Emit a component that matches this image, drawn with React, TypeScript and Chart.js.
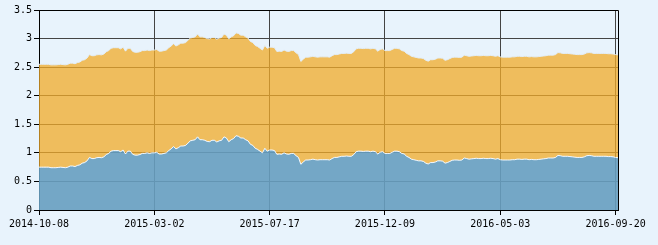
import React, { useEffect, useRef } from "react";
import { Chart, registerables } from "chart.js";

Chart.register(...registerables);

const tickLabels = ["2014-10-08", "2015-03-02", "2015-07-17", "2015-12-09", "2016-05-03", "2016-09-20"];
const tickStep = 48;

const unitValues = [
  0.75, 0.75, 0.75, 0.75, 0.75, 0.74, 0.74, 0.74, 0.745, 0.75,
  0.745, 0.74, 0.75, 0.77, 0.77, 0.76, 0.78, 0.79, 0.82, 0.83,
  0.86, 0.92, 0.90, 0.90, 0.915, 0.92, 0.915, 0.93, 0.97, 0.99,
  1.03, 1.04, 1.04, 1.04, 1.02, 1.05, 0.98, 1.03, 1.03, 0.975,
  0.96, 0.96, 0.97, 0.99, 0.99, 1.0, 0.99, 1.0, 1.0, 1.01,
  0.98, 0.98, 0.99, 1.0, 1.04, 1.07, 1.11, 1.07, 1.09, 1.12,
  1.12, 1.13, 1.17, 1.21, 1.22, 1.23, 1.28, 1.23, 1.23, 1.22,
  1.2, 1.195, 1.22, 1.22, 1.19, 1.21, 1.22, 1.28, 1.26, 1.195,
  1.23, 1.25, 1.30, 1.29, 1.26, 1.26, 1.23, 1.21, 1.15, 1.13,
  1.08, 1.06, 1.03, 1.0, 1.08, 1.03, 1.05, 1.05, 1.04, 0.975,
  0.98, 0.975, 1.0, 0.98, 0.975, 0.99, 0.99, 0.95, 0.92, 0.80,
  0.84, 0.875, 0.875, 0.88, 0.89, 0.88, 0.875, 0.88, 0.88, 0.88,
  0.88, 0.875, 0.9, 0.92, 0.92, 0.93, 0.94, 0.94, 0.945, 0.94,
  0.94, 0.97, 1.02, 1.03, 1.03, 1.025, 1.03, 1.03, 1.02, 1.03,
  1.02, 0.98, 1.01, 1.02, 0.99, 0.99, 0.99, 1.01, 1.03, 1.03,
  1.02, 0.99, 0.98, 0.94, 0.92, 0.89, 0.88, 0.87, 0.86, 0.86,
  0.85, 0.82, 0.805, 0.83, 0.83, 0.84, 0.86, 0.86, 0.855, 0.82,
  0.83, 0.85, 0.87, 0.875, 0.875, 0.87, 0.875, 0.91, 0.90, 0.89,
  0.895, 0.90, 0.905, 0.90, 0.90, 0.905, 0.90, 0.90, 0.905, 0.90,
  0.89, 0.9, 0.88, 0.875, 0.875, 0.875, 0.875, 0.88, 0.88, 0.89,
  0.89, 0.885, 0.89, 0.89, 0.88, 0.885, 0.88, 0.88, 0.885, 0.89,
  0.895, 0.90, 0.91, 0.91, 0.91, 0.92, 0.955, 0.95, 0.94, 0.94,
  0.94, 0.935, 0.93, 0.925, 0.92, 0.92, 0.92, 0.93, 0.95, 0.955,
  0.95, 0.94, 0.94, 0.94, 0.94, 0.94, 0.94, 0.935, 0.935, 0.93,
  0.92, 0.915,
];

const dividendValues = [
  1.8, 1.8, 1.8, 1.8, 1.8, 1.8, 1.8, 1.8, 1.8, 1.8,
  1.8, 1.8, 1.8, 1.8, 1.8, 1.8, 1.8, 1.8, 1.8, 1.8,
  1.8, 1.8, 1.8, 1.8, 1.8, 1.8, 1.8, 1.8, 1.8, 1.8,
  1.8, 1.8, 1.8, 1.8, 1.8, 1.8, 1.8, 1.8, 1.8, 1.8,
  1.8, 1.8, 1.8, 1.8, 1.8, 1.8, 1.8, 1.8, 1.8, 1.8,
  1.8, 1.8, 1.8, 1.8, 1.8, 1.8, 1.8, 1.8, 1.8, 1.8,
  1.8, 1.8, 1.8, 1.8, 1.8, 1.8, 1.8, 1.8, 1.8, 1.8,
  1.8, 1.8, 1.8, 1.8, 1.8, 1.8, 1.8, 1.8, 1.8, 1.8,
  1.8, 1.8, 1.8, 1.8, 1.8, 1.8, 1.8, 1.8, 1.8, 1.8,
  1.8, 1.8, 1.8, 1.8, 1.8, 1.8, 1.8, 1.8, 1.8, 1.8,
  1.8, 1.8, 1.8, 1.8, 1.8, 1.8, 1.8, 1.8, 1.8, 1.8,
  1.8, 1.8, 1.8, 1.8, 1.8, 1.8, 1.8, 1.8, 1.8, 1.8,
  1.8, 1.8, 1.8, 1.8, 1.8, 1.8, 1.8, 1.8, 1.8, 1.8,
  1.8, 1.8, 1.8, 1.8, 1.8, 1.8, 1.8, 1.8, 1.8, 1.8,
  1.8, 1.8, 1.8, 1.8, 1.8, 1.8, 1.8, 1.8, 1.8, 1.8,
  1.8, 1.8, 1.8, 1.8, 1.8, 1.8, 1.8, 1.8, 1.8, 1.8,
  1.8, 1.8, 1.8, 1.8, 1.8, 1.8, 1.8, 1.8, 1.8, 1.8,
  1.8, 1.8, 1.8, 1.8, 1.8, 1.8, 1.8, 1.8, 1.8, 1.8,
  1.8, 1.8, 1.8, 1.8, 1.8, 1.8, 1.8, 1.8, 1.8, 1.8,
  1.8, 1.8, 1.8, 1.8, 1.8, 1.8, 1.8, 1.8, 1.8, 1.8,
  1.8, 1.8, 1.8, 1.8, 1.8, 1.8, 1.8, 1.8, 1.8, 1.8,
  1.8, 1.8, 1.8, 1.8, 1.8, 1.8, 1.8, 1.8, 1.8, 1.8,
  1.8, 1.8, 1.8, 1.8, 1.8, 1.8, 1.8, 1.8, 1.8, 1.8,
  1.8, 1.8, 1.8, 1.8, 1.8, 1.8, 1.8, 1.8, 1.8, 1.8,
  1.8, 1.8,
];

const yTicks = [0, 0.5, 1, 1.5, 2, 2.5, 3, 3.5];

const frameBorder = {
  id: "frameBorder",
  afterDraw(chart: any) {
    const { ctx, chartArea } = chart;
    ctx.save();
    ctx.strokeStyle = "#000";
    ctx.lineWidth = 1;
    ctx.beginPath();
    ctx.moveTo(Math.round(chartArea.left) + 0.5, Math.round(chartArea.top) + 0.5);
    ctx.lineTo(Math.round(chartArea.right) + 0.5, Math.round(chartArea.top) + 0.5);
    ctx.lineTo(Math.round(chartArea.right) + 0.5, Math.round(chartArea.bottom) + 0.5);
    ctx.stroke();
    ctx.restore();
  },
};

export default function App() {
  const ref = useRef<HTMLCanvasElement | null>(null);

  useEffect(() => {
    document.body.style.margin = "0";
    const canvas = ref.current;
    if (!canvas) return;
    const font = { family: "'DejaVu Sans Mono', monospace", size: 10 };
    const chart = new Chart(canvas, {
      type: "line",
      data: {
        datasets: [
          {
            label: "unit",
            data: unitValues.map((v, i) => ({ x: i, y: v })),
            backgroundColor: "rgba(103,159,192,0.9)",
            borderColor: "rgba(245,250,255,0.95)",
            borderWidth: 1,
            pointRadius: 0,
            fill: "origin",
            tension: 0,
          },
          {
            label: "dividend",
            data: dividendValues.map((v, i) => ({ x: i, y: v })),
            backgroundColor: "rgba(242,171,40,0.75)",
            borderColor: "rgba(225,238,250,0.95)",
            borderWidth: 1,
            pointRadius: 0,
            fill: "-1",
            tension: 0,
          },
        ],
      },
      options: {
        animation: false,
        responsive: false,
        maintainAspectRatio: false,
        layout: { padding: { top: 10, right: 40, left: 0, bottom: 0 } },
        plugins: { legend: { display: false }, tooltip: { enabled: false } },
        scales: {
          x: {
            type: "linear",
            min: 0,
            max: unitValues.length - 1,
            afterBuildTicks: (scale: any) => {
              scale.ticks = tickLabels.map((_, k) => ({ value: k * tickStep }));
            },
            afterFit: (scale: any) => {
              scale.height = 35;
            },
            grid: { color: "#444", lineWidth: 1, tickColor: "#000", tickLength: 5 },
            border: { color: "#000", width: 1 },
            ticks: {
              color: "#000",
              font,
              maxRotation: 0,
              autoSkip: false,
              padding: 3,
              callback: (v: any) => tickLabels[Math.round(Number(v) / tickStep)] ?? "",
            },
          },
          y: {
            stacked: true,
            min: 0,
            max: 3.5,
            afterBuildTicks: (scale: any) => {
              scale.ticks = yTicks.map((v) => ({ value: v }));
            },
            afterFit: (scale: any) => {
              scale.width = 39;
            },
            grid: { color: "#444", lineWidth: 1, tickColor: "#000", tickLength: 5 },
            border: { color: "#000", width: 1 },
            ticks: {
              color: "#000",
              font,
              padding: 2,
              callback: (v: any) => String(v),
            },
          },
        },
      },
      plugins: [frameBorder],
    });
    return () => chart.destroy();
  }, []);

  return (
    <div style={{ width: 658, height: 245, background: "#E8F3FC" }}>
      <canvas ref={ref} width={658} height={245} style={{ display: "block" }} />
    </div>
  );
}
